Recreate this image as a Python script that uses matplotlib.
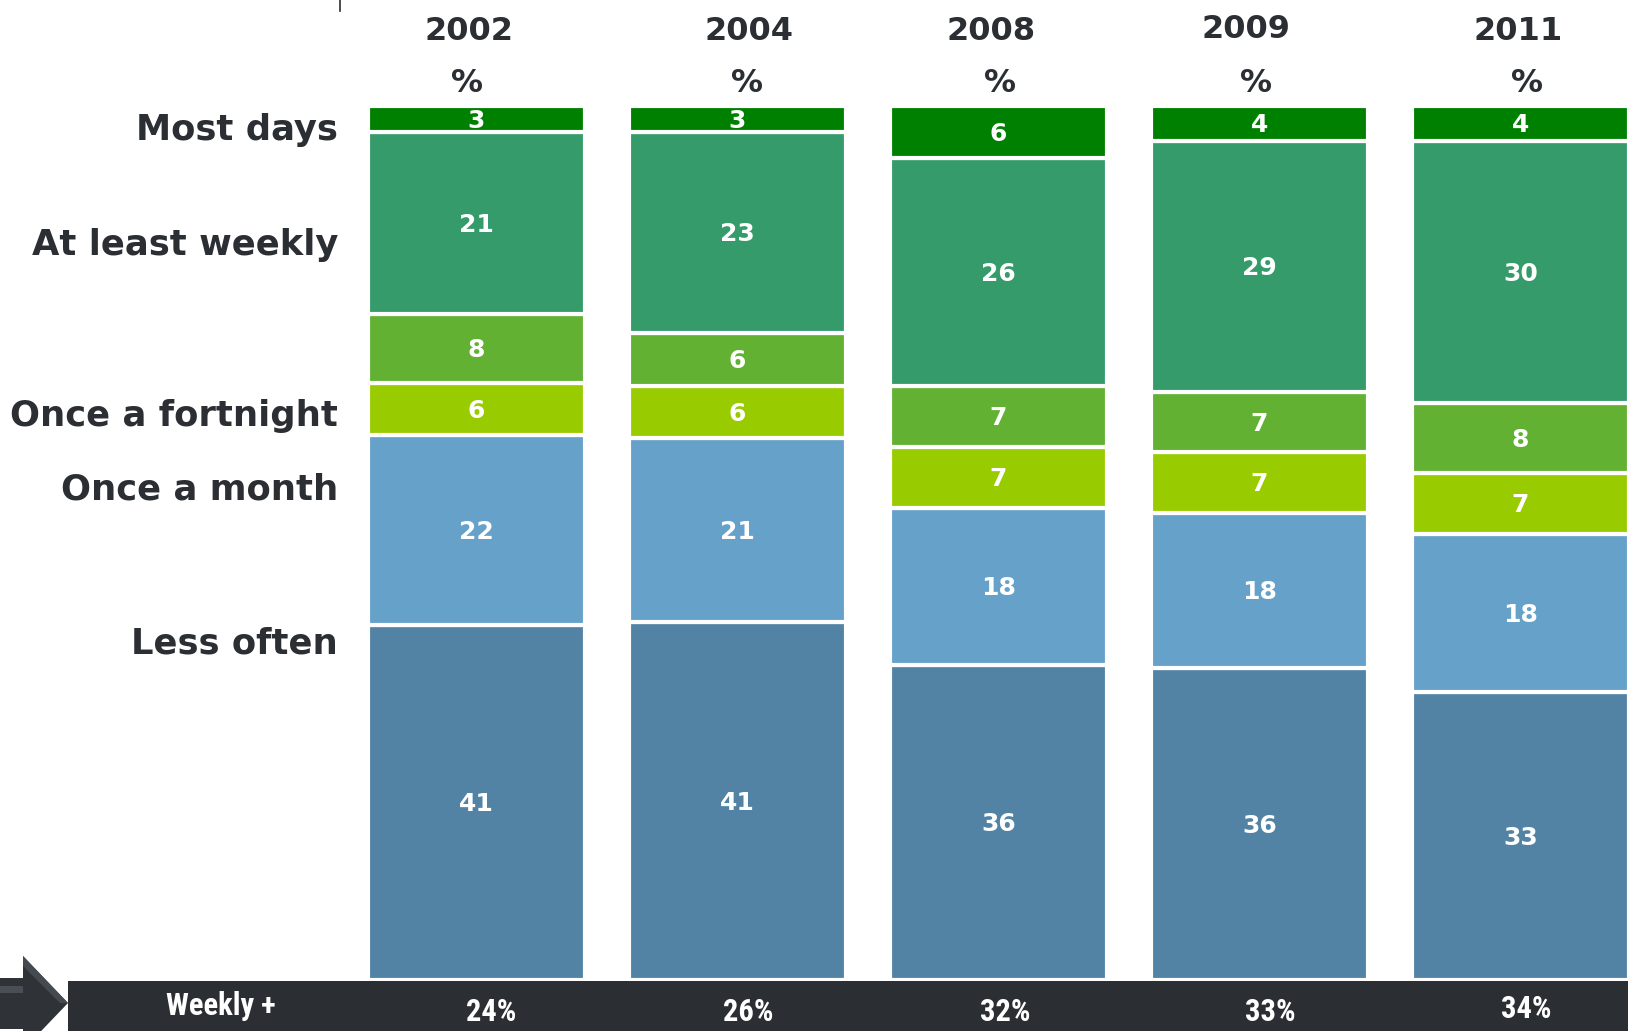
"""
Frequency of use, 2002-2011, as 100% stacked columns with a Weekly+ summary band.
"""
import numpy as np
import matplotlib
matplotlib.use('Agg')
import matplotlib.pyplot as plt
from matplotlib.patches import Rectangle, Polygon

years = ['2002', '2004', '2008', '2009', '2011']

# stack order, bottom to top
less_often = [41, 41, 36, 36, 33]
once_a_month = [22, 21, 18, 18, 18]
once_a_fortnight = [6, 6, 7, 7, 7]
two_three_a_month = [8, 6, 7, 7, 8]
at_least_weekly = [21, 23, 26, 29, 30]
most_days = [3, 3, 6, 4, 4]

weekly_plus = ['24%', '26%', '32%', '33%', '34%']

row_labels = ['Most days', 'At least weekly', 'Once a fortnight',
              'Once a month', 'Less often']

series = [less_often, once_a_month, once_a_fortnight,
          two_three_a_month, at_least_weekly, most_days]
colors = ['#5283A5', '#66A1C9', '#99CC00', '#62B133', '#359B6A', '#008000']

DARK = '#2B2E33'
HEAD_FONT = 'DejaVu Sans'
BAND_FONT = ['Roboto Condensed', 'Liberation Sans', 'DejaVu Sans']
W, H = 1628, 1031

fig = plt.figure(figsize=(W / 100, H / 100), dpi=100)
ax = fig.add_axes([0, 0, 1, 1])

# pixel <-> data helpers (bar pitch 261 px, 100% = 874 px)
X0, PITCH = 476.5, 261.0
Y0, PX_PER_PCT = 980.0, 8.74


def px(x):
    return (x - X0) / PITCH


def py(y):
    return (Y0 - y) / PX_PER_PCT


ax.set_xlim(px(0), px(W))
ax.set_ylim(py(H), py(0))
ax.axis('off')

data = np.array(series, dtype=float)
totals = data.sum(axis=0)
shares = data / totals * 100
xpos = np.arange(len(years))

bottom = np.zeros(len(years))
for vals, share, col in zip(data, shares, colors):
    ax.bar(xpos, share, bottom=bottom, width=0.832, color=col,
           edgecolor='white', linewidth=3, zorder=2)
    for i in range(len(years)):
        ax.text(xpos[i], bottom[i] + share[i] / 2 - 0.2, f'{int(vals[i])}',
                ha='center', va='center', color='white', fontsize=18,
                fontweight='bold', family=HEAD_FONT, zorder=3)
    bottom += share

# year headers and % row
year_x = [469, 749, 991, 1246, 1518]
year_y = [32, 32, 32, 29, 32]
pct_x = [467, 747, 1000, 1256, 1527]
for i, yr in enumerate(years):
    ax.text(px(year_x[i]), py(year_y[i]), yr, ha='center', va='center',
            fontsize=23, fontweight='bold', color=DARK, family=HEAD_FONT)
    ax.text(px(pct_x[i]), py(84), '%', ha='center', va='center',
            fontsize=23, fontweight='bold', color=DARK, family=HEAD_FONT)

# category labels on the left
label_y = [130, 245, 416, 489, 644]
for lab, ly in zip(row_labels, label_y):
    ax.text(px(338), py(ly), lab, ha='right', va='center', fontsize=25.5,
            fontweight='bold', color=DARK, family=HEAD_FONT)

# small tick at the top
ax.plot([px(340), px(340)], [py(0), py(11)], color=DARK, lw=1.2)

# summary band
ax.add_patch(Rectangle((px(68), py(H)), px(W) - px(68), py(981) - py(H),
                       facecolor=DARK, edgecolor='none', zorder=2))
ax.add_patch(Polygon([(px(0), py(978)), (px(23), py(978)), (px(23), py(956)),
                      (px(68), py(1003)), (px(23), py(1050)),
                      (px(23), py(1029)), (px(0), py(1029))],
                     closed=True, facecolor='#2F3237', edgecolor='none', zorder=3))
ax.add_patch(Polygon([(px(0), py(986)), (px(23), py(986)), (px(23), py(993)),
                      (px(0), py(993))],
                     closed=True, facecolor='#4A4E55', edgecolor='none', zorder=4))
ax.add_patch(Polygon([(px(23), py(956)), (px(68), py(1003)), (px(60), py(1003)),
                      (px(23), py(966))],
                     closed=True, facecolor='#454950', edgecolor='none', zorder=4))

ax.text(px(221), py(1006), 'Weekly +', ha='center', va='center', color='white',
        fontsize=22, fontweight='bold', family=BAND_FONT, zorder=5)
band_x = [491, 748, 1005, 1270, 1526]
band_y = [1012, 1012, 1012, 1012, 1009]
for i, t in enumerate(weekly_plus):
    ax.text(px(band_x[i]), py(band_y[i]), t, ha='center', va='center',
            color='white', fontsize=22, fontweight='bold',
            family=BAND_FONT, zorder=5)

fig.savefig('out.png', dpi=100, facecolor='white')
